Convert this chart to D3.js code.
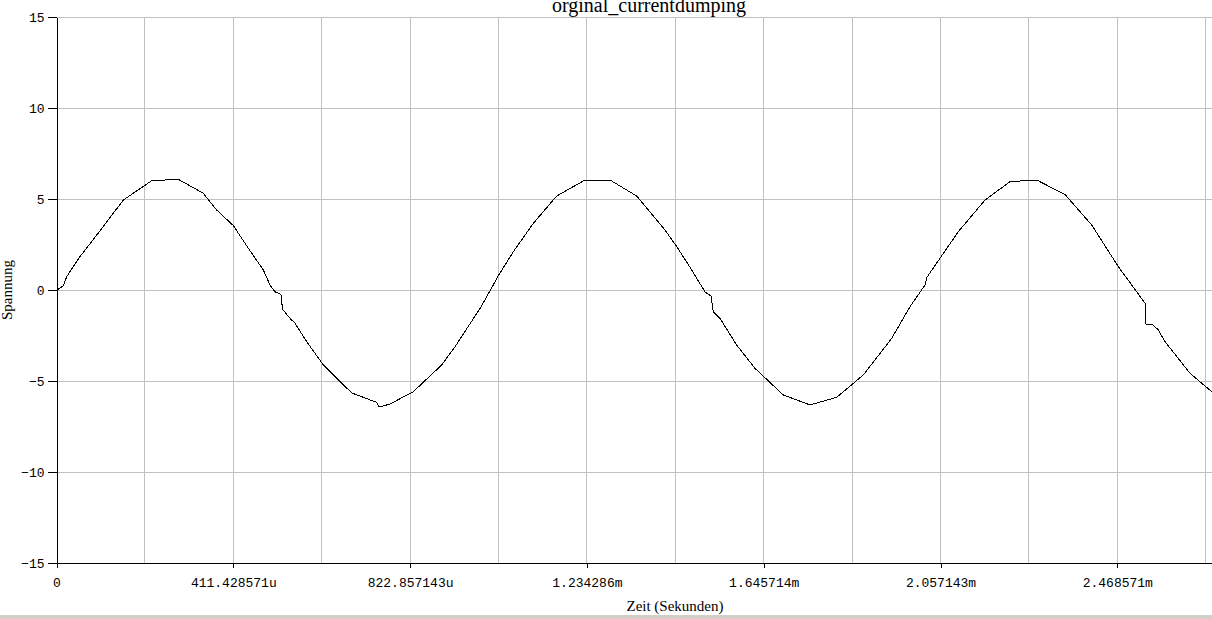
<!DOCTYPE html>
<html>
<head>
<meta charset="utf-8">
<script src="https://cdn.jsdelivr.net/npm/d3@7"></script>
<style>
  html, body { margin: 0; padding: 0; background: #ffffff; overflow: hidden; }
  svg { display: block; }
</style>
</head>
<body>
<svg id="chart" width="1212" height="619"></svg>
<script>
// ---- data ----
const chartTitle = "orginal_currentdumping";
const xTitle = "Zeit (Sekunden)";
const yTitle = "Spannung";

// time in microseconds
const timeUs = [0, 15.8, 23.7, 54.7, 101.2, 155.5, 221.5, 248.5, 256.4, 283.4, 303.0, 341.6, 372.8, 411.4,
  446.3, 481.2, 496.8, 508.5, 522.4, 525.9, 543.4, 555.0, 582.2, 620.9, 687.0, 745.1, 751.2, 776.1,
  830.3, 896.4, 927.4, 985.5, 1016.5, 1024.4, 1063.0, 1109.6, 1164.0, 1229.9, 1288.1, 1350.2, 1416.1,
  1443.3, 1478.2, 1509.1, 1523.1, 1528.4, 1544.0, 1582.9, 1625.5, 1691.3, 1753.5, 1815.6, 1877.5,
  1943.6, 1986.2, 2021.1, 2025.1, 2056.0, 2098.6, 2160.7, 2218.9, 2281.0, 2346.9, 2409.0, 2470.9,
  2533.1, 2535.4, 2552.3, 2564.0, 2579.5, 2637.8, 2688.3];
// voltage
const voltage = [0, 0.24, 0.75, 1.85, 3.27, 4.96, 6.02, 6.02, 6.10, 6.10, 5.84, 5.33, 4.41, 3.56,
  2.31, 1.12, 0.29, -0.08, -0.23, -1.04, -1.54, -1.81, -2.82, -4.10, -5.64, -6.16, -6.41, -6.25,
  -5.57, -4.10, -3.10, -1.00, 0.29, 0.66, 2.12, 3.68, 5.18, 6.06, 6.06, 5.18, 3.31,
  2.40, 1.12, -0.09, -0.31, -1.18, -1.54, -3.01, -4.29, -5.75, -6.30, -5.88, -4.65,
  -2.64, -0.90, 0.29, 0.70, 1.76, 3.22, 4.96, 5.97, 6.06, 5.26, 3.59, 1.30,
  -0.71, -1.85, -1.91, -2.18, -2.82, -4.56, -5.57];

const xTickValues = [0, 411.428571, 822.857143, 1234.286, 1645.714, 2057.143, 2468.571];
const xTickLabels = ["0", "411.428571u", "822.857143u", "1.234286m", "1.645714m", "2.057143m", "2.468571m"];
const xGridStepUs = 205.7142857;
const yTickValues = [-15, -10, -5, 0, 5, 10, 15];

// ---- layout ----
const svg = d3.select("#chart");
const plotLeft = 56.5, plotTop = 17.3, plotBottom = 563.3;
const plotRight = 1212;
const xMaxUs = 2880;
const x = d3.scaleLinear().domain([0, xMaxUs]).range([plotLeft, plotLeft + 7 * 176.8]);
const y = d3.scaleLinear().domain([-15, 15]).range([plotBottom, plotTop]);

// bottom window strip
svg.append("rect").attr("x", 0).attr("y", 615).attr("width", 1212).attr("height", 4).attr("fill", "#d4d0c8");

// grid
const gridX = d3.range(0, xMaxUs + 1, xGridStepUs).filter(v => v > 0);
const grid = svg.append("g").attr("stroke", "#c0c0c0").attr("stroke-width", 1).attr("shape-rendering", "crispEdges");
grid.selectAll("line.gx").data(gridX).join("line").attr("class", "gx")
  .attr("x1", d => Math.floor(x(d)) + 0.5).attr("x2", d => Math.floor(x(d)) + 0.5)
  .attr("y1", plotTop).attr("y2", plotBottom);
grid.selectAll("line.gy").data(yTickValues.filter(v => v > -15)).join("line").attr("class", "gy")
  .attr("x1", plotLeft).attr("x2", plotRight)
  .attr("y1", d => Math.floor(y(d)) + 0.5).attr("y2", d => Math.floor(y(d)) + 0.5);

// axes
const xAxis = d3.axisBottom(x).tickValues(xTickValues)
  .tickFormat((d, i) => xTickLabels[i]).tickSizeInner(4).tickSizeOuter(0).tickPadding(10);
const gx = svg.append("g").attr("transform", `translate(0,${Math.floor(plotBottom) + 0.5})`).call(xAxis);
gx.select(".domain").attr("d", `M${plotLeft},0H${plotRight}`);
const yAxis = d3.axisLeft(y).tickValues(yTickValues).tickSizeInner(9).tickSizeOuter(0).tickPadding(3);
const gy = svg.append("g").attr("transform", `translate(${Math.floor(plotLeft) + 0.5},0)`).call(yAxis);
[gx, gy].forEach(g => {
  g.attr("shape-rendering", "crispEdges");
  g.selectAll("path,line").attr("stroke", "#000");
  g.selectAll("text").attr("font-family", "'Liberation Mono', 'DejaVu Sans Mono', monospace")
    .attr("font-size", 13).attr("fill", "#000");
});
gy.selectAll(".tick text").attr("dy", "0.35em");

// line
const line = d3.line().x(d => x(d[0])).y(d => y(d[1]));
svg.append("path")
  .datum(timeUs.map((t, i) => [t, voltage[i]]))
  .attr("d", line)
  .attr("fill", "none").attr("stroke", "#000").attr("stroke-width", 1)
  .attr("shape-rendering", "crispEdges");

// titles
svg.append("text").attr("x", 649).attr("y", 12).attr("text-anchor", "middle")
  .attr("font-family", "'Liberation Serif', 'Times New Roman', serif").attr("font-size", 20)
  .attr("fill", "#000").text(chartTitle);
svg.append("text").attr("x", 675).attr("y", 611).attr("text-anchor", "middle")
  .attr("font-family", "'Liberation Serif', 'Times New Roman', serif").attr("font-size", 15)
  .attr("fill", "#000").text(xTitle);
svg.append("text").attr("transform", "translate(12,290) rotate(-90)").attr("text-anchor", "middle")
  .attr("font-family", "'Liberation Serif', 'Times New Roman', serif").attr("font-size", 15)
  .attr("fill", "#000").text(yTitle);
</script>
</body>
</html>
